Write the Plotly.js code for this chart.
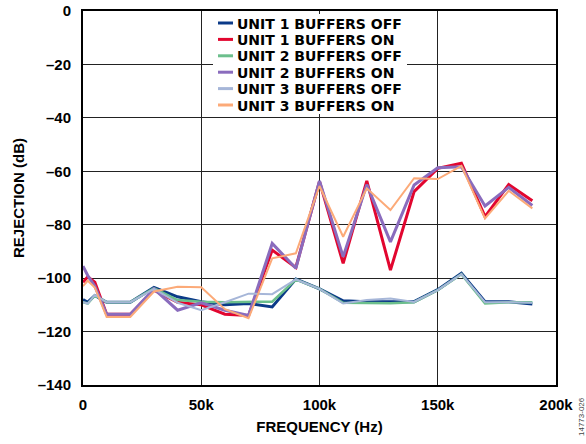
<!DOCTYPE html>
<html>
<head>
<meta charset="utf-8">
<script src="https://cdn.plot.ly/plotly-3.0.1.min.js"></script>
<style>html,body{margin:0;padding:0;background:#fff;}#chart{width:586px;height:444px;}</style>
</head>
<body>
<div id="chart"></div>
<script>
var freq = [0, 2000, 5000, 10000, 20000, 30000, 40000, 50000, 60000, 70000, 80000, 90000, 100000, 110000, 120000, 130000, 140000, 150000, 160000, 170000, 180000, 190000];
var unit1Off = [-108, -109, -106.5, -109, -109, -103.5, -107, -108.8, -110, -109.5, -110.8, -100.3, -104, -108.5, -108.8, -108.8, -108.8, -104.3, -98.2, -108.8, -108.8, -109.7];
var unit1On  = [-101.5, -99.5, -101.5, -113.5, -113.5, -104.5, -109, -110, -113.5, -114, -89.5, -96, -63.8, -94.5, -63.6, -97, -67.6, -58.9, -57, -77, -65, -71];
var unit2Off = [-109, -109.5, -106.5, -109, -109, -103.8, -108.2, -108.8, -109, -108.8, -108.8, -100.5, -104, -109.2, -109.4, -109.4, -109, -104.5, -98.5, -109.5, -109, -109];
var unit2On  = [-95.5, -99, -103, -113.5, -113.5, -104, -112, -109.2, -112, -114, -87, -96.3, -63.6, -92, -65, -86.4, -65.1, -58.7, -58.3, -73, -66, -72.8];
var unit3Off = [-109, -109.5, -106.3, -109, -109, -104, -109.2, -112, -109, -105.8, -106, -100.5, -104, -109.5, -108.2, -107.6, -108.9, -104.5, -98.5, -109, -109, -109.2];
var unit3On  = [-103, -101, -103.5, -114.5, -114.5, -105, -103.2, -103.4, -111.6, -115, -92.6, -90.7, -65.5, -84.5, -66.4, -74.5, -62.6, -62.9, -58, -77.6, -67.3, -73.9];

var seriesNames = ["UNIT 1 BUFFERS OFF", "UNIT 1 BUFFERS ON", "UNIT 2 BUFFERS OFF", "UNIT 2 BUFFERS ON", "UNIT 3 BUFFERS OFF", "UNIT 3 BUFFERS ON"];
var yTickVals = [0, -20, -40, -60, -80, -100, -120, -140];
var yTickText = ["0", "\u201320", "\u201340", "\u201360", "\u201380", "\u2013100", "\u2013120", "\u2013140"];
var xTickVals = [0, 50000, 100000, 150000, 200000];
var xTickText = ["0", "50k", "100k", "150k", "200k"];

var allSeries = [unit1Off, unit1On, unit2Off, unit2On, unit3Off, unit3On];
var colors = ["#0b3a88", "#e2062f", "#6cbf8c", "#8a6cbd", "#a6b6d8", "#fcaa78"];
var widths = [3, 3, 2.5, 3, 2, 2];

var traces = allSeries.map(function (vals, i) {
  return {
    x: freq, y: vals, name: seriesNames[i], type: "scatter", mode: "lines",
    line: {color: colors[i], width: widths[i]}
  };
});

var fontFam = "Liberation Sans, Arial, sans-serif";
var legendFam = "DejaVu Sans, Liberation Sans, sans-serif";

// custom compact legend (paper coordinates)
var plotL = 83, plotR = 556, plotT = 11, plotB = 385;
function px2x(p) { return (p - plotL) / (plotR - plotL); }
function px2y(p) { return (plotB - p) / (plotB - plotT); }
var shapes = [{
  type: "rect", xref: "paper", yref: "paper", layer: "above",
  x0: px2x(213), x1: px2x(407), y0: px2y(114), y1: px2y(14),
  fillcolor: "#fff", line: {width: 0}
}];
var annotations = [];
var rowY = [23, 39.4, 55.8, 72.2, 88.6, 105];
seriesNames.forEach(function (name, i) {
  shapes.push({
    type: "line", xref: "paper", yref: "paper", layer: "above",
    x0: px2x(218), x1: px2x(233), y0: px2y(rowY[i]), y1: px2y(rowY[i]),
    line: {color: colors[i], width: 3}
  });
  annotations.push({
    text: name, xref: "paper", yref: "paper", x: px2x(236), y: px2y(rowY[i] + 0.5),
    xanchor: "left", yanchor: "middle", showarrow: false, borderpad: 0,
    font: {family: legendFam, size: 14, color: "#000", weight: "bold"}
  });
});
annotations.push({
  text: "14773-026", xref: "paper", yref: "paper", x: px2x(582), y: px2y(417),
  xanchor: "center", yanchor: "middle", textangle: -90, showarrow: false,
  font: {family: fontFam, size: 8, color: "#444"}
});

var layout = {
  width: 586, height: 444,
  margin: {l: plotL, r: 586 - plotR, t: plotT, b: 444 - plotB},
  paper_bgcolor: "#fff", plot_bgcolor: "#fff",
  font: {family: fontFam, size: 15, color: "#000"},
  showlegend: false,
  xaxis: {
    range: [0, 200000], tickvals: xTickVals, ticktext: xTickText,
    showgrid: true, gridcolor: "#222", gridwidth: 1,
    showline: true, linecolor: "#000", linewidth: 2, mirror: true,
    zeroline: false, ticks: "", ticklabelstandoff: 5,
    tickfont: {family: fontFam, size: 15, weight: "bold"},
    title: {text: "FREQUENCY (Hz)", standoff: 9, font: {family: fontFam, size: 15, weight: "bold"}}
  },
  yaxis: {
    range: [-140, 0], tickvals: yTickVals, ticktext: yTickText,
    showgrid: true, gridcolor: "#222", gridwidth: 1,
    showline: true, linecolor: "#000", linewidth: 2, mirror: true,
    zeroline: false, ticks: "", ticklabelstandoff: 7,
    tickfont: {family: fontFam, size: 15, weight: "bold"},
    title: {text: "REJECTION (dB)", standoff: 9, font: {family: fontFam, size: 15, weight: "bold"}}
  },
  shapes: shapes,
  annotations: annotations
};

Plotly.newPlot("chart", traces, layout, {displayModeBar: false, staticPlot: true});
</script>
</body>
</html>
